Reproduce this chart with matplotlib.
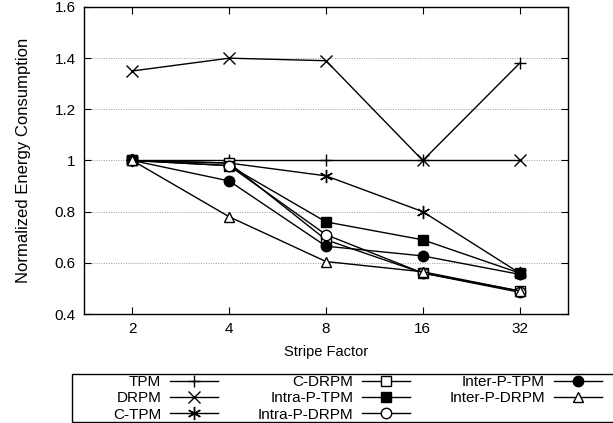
import matplotlib
matplotlib.use("Agg")
import matplotlib.pyplot as plt
from matplotlib.patches import Rectangle

plt.rcParams['font.family'] = ['Liberation Sans', 'DejaVu Sans']

stripe_factors = ["2", "4", "8", "16", "32"]
TPM = [1.0, 1.0, 1.0, 1.0, 1.38]
DRPM = [1.35, 1.40, 1.39, 1.0, 1.0]
C_TPM = [1.0, 0.99, 0.94, 0.80, 0.56]
C_DRPM = [1.0, 0.99, 0.69, 0.56, 0.49]
Intra_P_TPM = [1.0, 0.98, 0.76, 0.69, 0.56]
Intra_P_DRPM = [1.0, 0.98, 0.71, 0.56, 0.485]
Inter_P_TPM = [1.0, 0.92, 0.665, 0.627, 0.555]
Inter_P_DRPM = [1.0, 0.78, 0.605, 0.565, 0.49]

yticks = [0.4, 0.6, 0.8, 1.0, 1.2, 1.4, 1.6]
ytick_labels = ["0.4", "0.6", "0.8", "1", "1.2", "1.4", "1.6"]

series = [
    ("TPM", TPM, dict(marker='+', markersize=9, mfc='none')),
    ("DRPM", DRPM, dict(marker='x', markersize=8, mfc='none')),
    ("C-TPM", C_TPM, dict(marker=(6, 2, 0), markersize=9.5, mfc='none')),
    ("C-DRPM", C_DRPM, dict(marker='s', markersize=7, mfc='white')),
    ("Intra-P-TPM", Intra_P_TPM, dict(marker='s', markersize=7, mfc='black')),
    ("Intra-P-DRPM", Intra_P_DRPM, dict(marker='o', markersize=7.5, mfc='white')),
    ("Inter-P-TPM", Inter_P_TPM, dict(marker='o', markersize=7.5, mfc='black')),
    ("Inter-P-DRPM", Inter_P_DRPM, dict(marker='^', markersize=7.5, mfc='white')),
]

W, H = 613, 423
fig = plt.figure(figsize=(W/100, H/100), dpi=100)
ax = fig.add_axes([84/W, 1-314/H, (568-84)/W, (314-7)/H])

x = list(range(len(stripe_factors)))
handles = []
for name, vals, st in series:
    h, = ax.plot(x, vals, color='black', linewidth=1.0, mec='black', mew=1.0,
                 label=name, **st)
    handles.append(h)

ax.set_xlim(-0.5, 4.5)
ax.set_ylim(0.4, 1.6)
ax.set_xticks(x)
ax.set_xticklabels(stripe_factors, fontsize=11)
ax.set_yticks(yticks)
ax.set_yticklabels(ytick_labels, fontsize=11)
ax.tick_params(direction='in', top=True, right=True, length=5, width=0.8, pad=6)
ax.yaxis.grid(True, linestyle=(0, (1, 1.5)), color='#999999', linewidth=0.7)
ax.set_axisbelow(True)
for s in ax.spines.values():
    s.set_linewidth(1.0)
ax.set_xlabel("Stripe Factor", fontsize=10.5, labelpad=6)
ax.set_ylabel("Normalized Energy Consumption", fontsize=12, va='center')
ax.yaxis.set_label_coords((24-84)/(568-84), 0.5)

# legend frame (extends past the right edge, as in the reference)
fig.patches.append(Rectangle((72/W, 1-422/H), (620-72)/W, (422-374)/H,
                             transform=fig.transFigure, fill=False,
                             edgecolor='black', linewidth=1.0))

leg = fig.legend(handles=handles, loc='upper left',
                 bbox_to_anchor=(113/W, 1-375/H), ncol=3,
                 markerfirst=False, fontsize=11, frameon=False,
                 borderaxespad=0, borderpad=0,
                 handlelength=3.1, handletextpad=0.6, columnspacing=2.6,
                 labelspacing=0.15)

fig.savefig("out.png", dpi=100)
